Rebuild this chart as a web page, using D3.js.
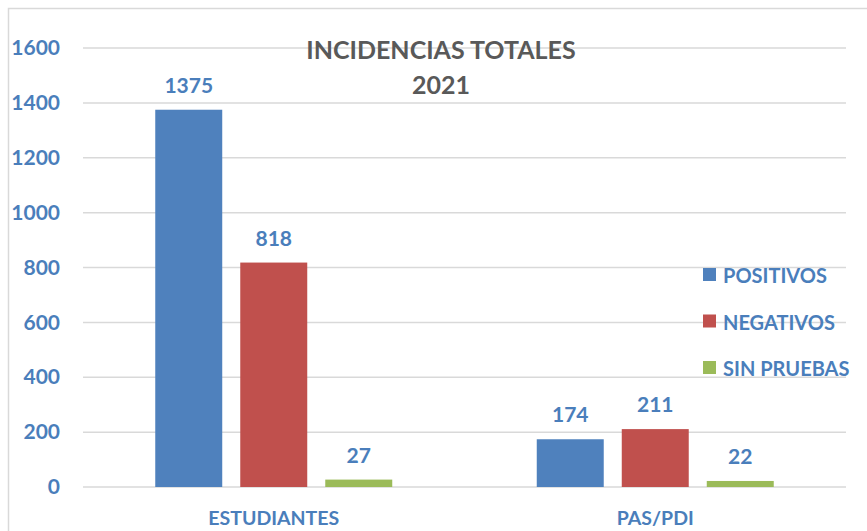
<!DOCTYPE html>
<html>
<head>
<meta charset="utf-8">
<script src="https://cdn.jsdelivr.net/npm/d3@7"></script>
<style>
  body { margin: 0; background: #fff; }
  text { font-family: Lato, "Open Sans", sans-serif; font-weight: bold; }
</style>
</head>
<body>
<div id="chart"></div>
<script>
const categories = ["ESTUDIANTES", "PAS/PDI"];
const seriesNames = ["POSITIVOS", "NEGATIVOS", "SIN PRUEBAS"];
const positivos = [1375, 174];
const negativos = [818, 211];
const sinPruebas = [27, 22];
const yTicks = [0, 200, 400, 600, 800, 1000, 1200, 1400, 1600];
const colors = ["#4F81BD", "#C0504D", "#9BBB59"];

const totalWidth = 867, totalHeight = 531;
const margin = { top: 48, right: 21, bottom: 44, left: 83 };
const width = totalWidth - margin.left - margin.right;
const height = totalHeight - margin.top - margin.bottom;

const values = [positivos, negativos, sinPruebas];
const data = categories.map((c, i) => ({
  category: c,
  bars: seriesNames.map((s, j) => ({ name: s, value: values[j][i], color: colors[j] }))
}));

const root = d3.select("#chart").append("svg")
  .attr("width", totalWidth)
  .attr("height", totalHeight);

// chart border (top and left visible)
root.append("rect")
  .attr("x", 8.5).attr("y", 8.5)
  .attr("width", totalWidth).attr("height", totalHeight)
  .attr("fill", "none")
  .attr("stroke", "#d9d9d9")
  .attr("stroke-width", 1.5);

const svg = root.append("g")
  .attr("transform", "translate(" + margin.left + "," + margin.top + ")");

const x0 = d3.scaleBand().domain(categories).range([0, width]);
const x1 = d3.scaleBand().domain(seriesNames)
  .range([0, x0.bandwidth()])
  .paddingInner(0.212)
  .paddingOuter(0.85);
const y = d3.scaleLinear().domain([0, 1600]).range([height, 0]);

// gridlines
svg.append("g")
  .selectAll("line")
  .data(yTicks)
  .join("line")
  .attr("x1", 0).attr("x2", width)
  .attr("y1", (d) => y(d)).attr("y2", (d) => y(d))
  .attr("stroke", "#d9d9d9")
  .attr("stroke-width", 1.5);

// y axis labels
const yAxis = svg.append("g")
  .attr("transform", "translate(-23,0)")
  .call(d3.axisLeft(y).tickValues(yTicks).tickFormat(d3.format("d")).tickSize(0).tickPadding(0));
yAxis.select(".domain").remove();
yAxis.selectAll("text")
  .attr("fill", "#4A7EBB")
  .style("font-size", "21px")
  .style("font-family", "Lato, sans-serif")
  .style("font-weight", "bold");

// bars
const groups = svg.selectAll(".group")
  .data(data)
  .join("g")
  .attr("class", "group")
  .attr("transform", (d) => "translate(" + x0(d.category) + ",0)");

groups.selectAll("rect")
  .data((d) => d.bars)
  .join("rect")
  .attr("x", (d) => x1(d.name))
  .attr("y", (d) => y(d.value))
  .attr("width", x1.bandwidth())
  .attr("height", (d) => height - y(d.value))
  .attr("fill", (d) => d.color);

groups.selectAll(".val")
  .data((d) => d.bars)
  .join("text")
  .attr("class", "val")
  .attr("x", (d) => x1(d.name) + x1.bandwidth() / 2)
  .attr("y", (d) => y(d.value) - 17)
  .attr("text-anchor", "middle")
  .attr("fill", "#4A7EBB")
  .style("font-size", "21px")
  .text((d) => d.value);

// category labels
svg.append("g")
  .selectAll("text")
  .data(categories)
  .join("text")
  .attr("x", (d) => x0(d) + x0.bandwidth() / 2)
  .attr("y", height + 38)
  .attr("text-anchor", "middle")
  .attr("fill", "#4A7EBB")
  .style("font-size", "19.5px")
  .text((d) => d);

// title
const title = root.append("g").attr("fill", "#595959");
title.append("text")
  .attr("x", 441).attr("y", 59)
  .attr("text-anchor", "middle")
  .style("font-size", "25px")
  .text("INCIDENCIAS TOTALES");
title.append("text")
  .attr("x", 441).attr("y", 94)
  .attr("text-anchor", "middle")
  .style("font-size", "25px")
  .text("2021");

// legend
const legend = root.append("g")
  .attr("transform", "translate(703,268)");
const items = legend.selectAll("g")
  .data(seriesNames)
  .join("g")
  .attr("transform", (d, i) => "translate(0," + i * 46.5 + ")");
items.append("rect")
  .attr("width", 13).attr("height", 13)
  .attr("fill", (d, i) => colors[i]);
items.append("text")
  .attr("x", 20).attr("y", 15)
  .attr("fill", "#4A7EBB")
  .style("font-size", "20px")
  .text((d) => d);
</script>
</body>
</html>
